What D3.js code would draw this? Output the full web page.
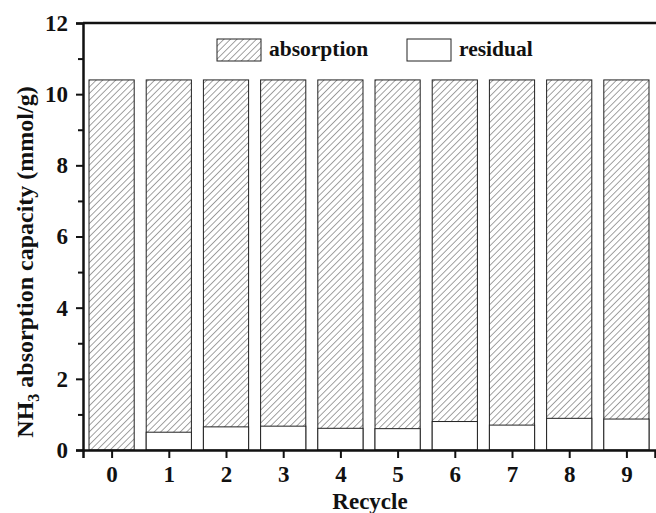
<!DOCTYPE html>
<html>
<head>
<meta charset="utf-8">
<script src="https://cdn.jsdelivr.net/npm/d3@7"></script>
<style>
  body { margin: 0; background: #fff; }
  svg text { font-family: "Liberation Serif", "Times New Roman", serif; font-weight: bold; fill: #111; }
</style>
</head>
<body>
<div id="chart"></div>
<script>
// recycle runs
var cycles = [0, 1, 2, 3, 4, 5, 6, 7, 8, 9];
// total NH3 absorption capacity, mmol/g
var absorption = [10.4, 10.4, 10.4, 10.4, 10.4, 10.4, 10.4, 10.4, 10.4, 10.4];
// residual ammonia left after desorption
var residual = [0, 0.5, 0.65, 0.67, 0.61, 0.6, 0.8, 0.7, 0.89, 0.87];
var yTicks = [0, 2, 4, 6, 8, 10, 12];
var yMinor = [1, 3, 5, 7, 9, 11];
var legendItems = ['absorption', 'residual'];

var W = 656, H = 513;
var m = { top: 23, right: 1, bottom: 63, left: 83 };

var svg = d3.select('#chart').append('svg')
	.attr('width', W)
	.attr('height', H);

var defs = svg.append('defs');
var pat = defs.append('pattern')
	.attr('id', 'hatch')
	.attr('patternUnits', 'userSpaceOnUse')
	.attr('width', 4.6)
	.attr('height', 4.6)
	.attr('patternTransform', 'rotate(45)');
pat.append('rect').attr('width', 4.6).attr('height', 4.6).attr('fill', '#fff');
pat.append('line')
	.attr('x1', 0).attr('y1', 0).attr('x2', 0).attr('y2', 4.6)
	.attr('stroke', '#444').attr('stroke-width', 1);

var x = d3.scaleLinear()
	.domain([-0.5, 9.5])
	.range([m.left, W - m.right]);
var y = d3.scaleLinear()
	.domain([0, 12])
	.range([H - m.bottom, m.top]);

var bw = (x(1) - x(0)) * 0.79;

var g = svg.append('g');

// absorption bars (hatched, full height)
g.selectAll('rect.abs')
	.data(cycles)
	.enter()
	.append('rect')
	.attr('class', 'abs')
	.attr('x', function(d) { return x(d) - bw / 2; })
	.attr('y', function(d, i) { return y(absorption[i]); })
	.attr('width', bw)
	.attr('height', function(d, i) { return y(0) - y(absorption[i]); })
	.attr('fill', 'url(#hatch)')
	.attr('stroke', '#222')
	.attr('stroke-width', 1);

// residual part (white, on top of the hatching)
g.selectAll('rect.res')
	.data(cycles.filter(function(d, i) { return residual[i] > 0; }))
	.enter()
	.append('rect')
	.attr('class', 'res')
	.attr('x', function(d) { return x(d) - bw / 2; })
	.attr('y', function(d) { return y(residual[d]); })
	.attr('width', bw)
	.attr('height', function(d) { return y(0) - y(residual[d]); })
	.attr('fill', '#fff')
	.attr('stroke', '#222')
	.attr('stroke-width', 1);

// axes
var yAxis = d3.axisLeft(y).tickValues(yTicks).tickSize(7).tickPadding(8).tickFormat(d3.format('d'));
svg.append('g')
	.attr('transform', 'translate(' + m.left + ',0)')
	.call(yAxis);
svg.append('g')
	.attr('transform', 'translate(' + m.left + ',0)')
	.call(d3.axisLeft(y).tickValues(yMinor).tickSize(5).tickFormat(''))
	.select('.domain').remove();

var xAxis = d3.axisBottom(x).tickValues(cycles).tickSize(8).tickPadding(8).tickFormat(d3.format('d'));
svg.append('g')
	.attr('transform', 'translate(0,' + y(0) + ')')
	.call(xAxis);

svg.selectAll('.tick line').attr('stroke', '#111').attr('stroke-width', 2);
svg.selectAll('.domain').attr('stroke', '#111').attr('stroke-width', 2.5);
svg.selectAll('.tick text').style('font-size', '23px').attr('fill', '#111');

// frame top
svg.append('line')
	.attr('x1', m.left).attr('x2', W)
	.attr('y1', y(12)).attr('y2', y(12))
	.attr('stroke', '#111').attr('stroke-width', 2.5);

// legend
var legX = [217, 407];
var leg = svg.selectAll('g.leg')
	.data(legendItems)
	.enter()
	.append('g')
	.attr('class', 'leg')
	.attr('transform', function(d, i) { return 'translate(' + legX[i] + ',39)'; });
leg.append('rect')
	.attr('width', 44)
	.attr('height', 22)
	.attr('fill', function(d, i) { return i == 0 ? 'url(#hatch)' : '#fff'; })
	.attr('stroke', '#222')
	.attr('stroke-width', 1);
leg.append('text')
	.attr('x', 52)
	.attr('y', 17)
	.style('font-size', '21.5px')
	.text(function(d) { return d; });

// axis titles
svg.append('text')
	.attr('x', 370)
	.attr('y', 509)
	.attr('text-anchor', 'middle')
	.style('font-size', '23px')
	.text('Recycle');

var yt = svg.append('text')
	.attr('transform', 'translate(33,262) rotate(-90)')
	.attr('text-anchor', 'middle')
	.style('font-size', '24px');
yt.append('tspan').text('NH');
yt.append('tspan').attr('dy', 6).style('font-size', '16px').text('3');
yt.append('tspan').attr('dy', -6).text(' absorption capacity (mmol/g)');
</script>
</body>
</html>
